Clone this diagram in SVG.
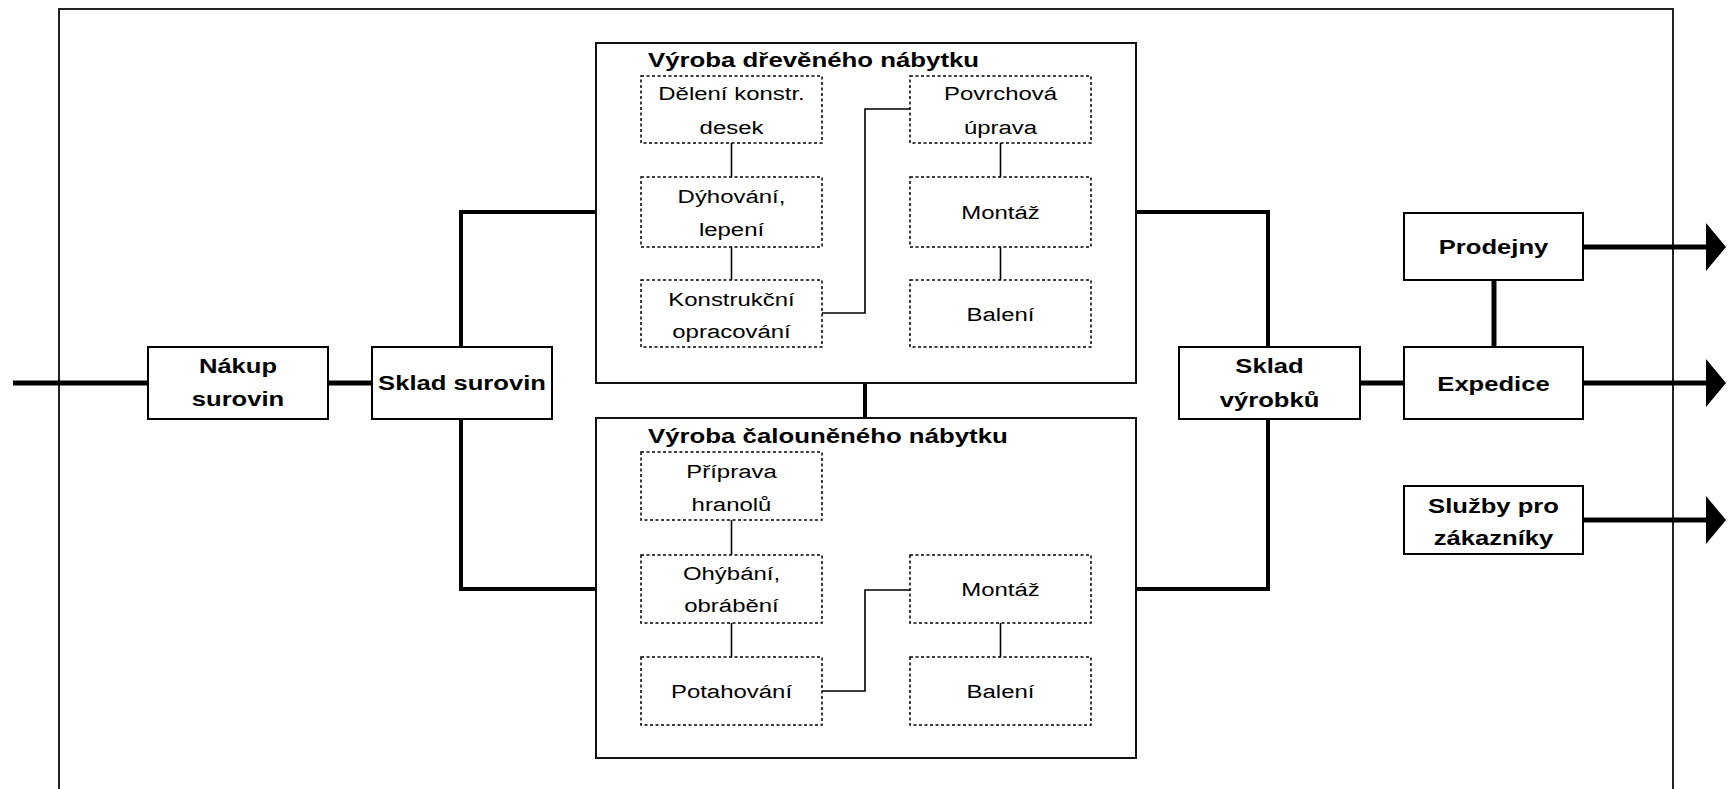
<svg xmlns="http://www.w3.org/2000/svg" width="1729" height="789" viewBox="0 0 1729 789">
<defs>
<style>
.frame{fill:none;stroke:#222;stroke-width:2}
.box{fill:#fff;stroke:#000;stroke-width:2}
.big{fill:#fff;stroke:#111;stroke-width:2}
.dash{fill:#fff;stroke:#000;stroke-width:1.5;stroke-dasharray:3 2.5}
.thick{fill:none;stroke:#000;stroke-width:5}
.mid{fill:none;stroke:#000;stroke-width:4}
.thin{fill:none;stroke:#000;stroke-width:1.6}
.b{font-family:"Liberation Sans",Arial,sans-serif;font-weight:bold;font-size:20px;fill:#000}
.r{font-family:"Liberation Sans",Arial,sans-serif;font-size:19px;fill:#000}
.c{text-anchor:middle}
</style>
<marker id="ah" viewBox="0 0 20 48" markerWidth="20" markerHeight="48" refX="0" refY="24" markerUnits="userSpaceOnUse" orient="auto">
<path d="M0,0 L20,24 L0,48 Z" fill="#000"/>
</marker>
</defs>
<rect width="1729" height="789" fill="#fff"/>
<path class="frame" d="M59,800 V9 H1673 V800"/>

<g id="connectors">
<path class="thick" d="M13,383 H148"/>
<path class="thick" d="M328,383 H372"/>
<path class="mid" d="M461,347 V212 H596"/>
<path class="mid" d="M461,419 V589 H596"/>
<path class="mid" d="M865,383 V418"/>
<path class="mid" d="M1136,212 H1268 V347"/>
<path class="mid" d="M1136,589 H1268 V419"/>
<path class="thick" d="M1360,383 H1404"/>
<path class="thick" d="M1494,280 V347"/>
<path class="thick" d="M1583,247 H1706" marker-end="url(#ah)"/>
<path class="thick" d="M1583,383 H1706" marker-end="url(#ah)"/>
<path class="thick" d="M1583,520 H1706" marker-end="url(#ah)"/>
</g>

<g id="nakup">
<rect class="box" x="148" y="347" width="180" height="72"/>
<text class="b c" transform="translate(238,373) scale(1.28,1)">Nákup</text>
<text class="b c" transform="translate(238,406) scale(1.28,1)">surovin</text>
</g>
<g id="sklad-surovin">
<rect class="box" x="372" y="347" width="180" height="72"/>
<text class="b c" transform="translate(462,390) scale(1.28,1)">Sklad surovin</text>
</g>

<g id="vyroba-drevene">
<rect class="big" x="596" y="43" width="540" height="340"/>
<text class="b" transform="translate(648,67) scale(1.29,1)">Výroba dřevěného nábytku</text>
</g>
<g id="vyroba-drevene-inner-connectors">
<path class="thin" d="M731.5,143 V177 M731.5,247 V280 M1000.5,143 V177 M1000.5,247 V280"/>
<path class="thin" d="M822,313 H865 V109 H910"/>
</g>
<g id="deleni">
<rect class="dash" x="641" y="76" width="181" height="67"/>
<text class="r c" transform="translate(731.5,100) scale(1.26,1)">Dělení konstr.</text>
<text class="r c" transform="translate(731.5,134) scale(1.26,1)">desek</text>
</g>
<g id="dyhovani">
<rect class="dash" x="641" y="177" width="181" height="70"/>
<text class="r c" transform="translate(731.5,203) scale(1.26,1)">Dýhování,</text>
<text class="r c" transform="translate(731.5,236) scale(1.26,1)">lepení</text>
</g>
<g id="konstrukcni">
<rect class="dash" x="641" y="280" width="181" height="67"/>
<text class="r c" transform="translate(731.5,306) scale(1.26,1)">Konstrukční</text>
<text class="r c" transform="translate(731.5,338) scale(1.26,1)">opracování</text>
</g>
<g id="povrchova">
<rect class="dash" x="910" y="76" width="181" height="67"/>
<text class="r c" transform="translate(1000.5,100) scale(1.26,1)">Povrchová</text>
<text class="r c" transform="translate(1000.5,134) scale(1.26,1)">úprava</text>
</g>
<g id="montaz-1">
<rect class="dash" x="910" y="177" width="181" height="70"/>
<text class="r c" transform="translate(1000.5,219) scale(1.26,1)">Montáž</text>
</g>
<g id="baleni-1">
<rect class="dash" x="910" y="280" width="181" height="67"/>
<text class="r c" transform="translate(1000.5,321) scale(1.26,1)">Balení</text>
</g>

<g id="vyroba-calounene">
<rect class="big" x="596" y="418" width="540" height="340"/>
<text class="b" transform="translate(648,443) scale(1.29,1)">Výroba čalouněného nábytku</text>
</g>
<g id="vyroba-calounene-inner-connectors">
<path class="thin" d="M731.5,520 V555 M731.5,623 V657 M1000.5,623 V657"/>
<path class="thin" d="M822,691 H865 V590 H910"/>
</g>
<g id="priprava">
<rect class="dash" x="641" y="452" width="181" height="68"/>
<text class="r c" transform="translate(731.5,478) scale(1.26,1)">Příprava</text>
<text class="r c" transform="translate(731.5,511) scale(1.26,1)">hranolů</text>
</g>
<g id="ohybani">
<rect class="dash" x="641" y="555" width="181" height="68"/>
<text class="r c" transform="translate(731.5,580) scale(1.26,1)">Ohýbání,</text>
<text class="r c" transform="translate(731.5,612) scale(1.26,1)">obrábění</text>
</g>
<g id="potahovani">
<rect class="dash" x="641" y="657" width="181" height="68"/>
<text class="r c" transform="translate(731.5,698) scale(1.26,1)">Potahování</text>
</g>
<g id="montaz-2">
<rect class="dash" x="910" y="555" width="181" height="68"/>
<text class="r c" transform="translate(1000.5,596) scale(1.26,1)">Montáž</text>
</g>
<g id="baleni-2">
<rect class="dash" x="910" y="657" width="181" height="68"/>
<text class="r c" transform="translate(1000.5,698) scale(1.26,1)">Balení</text>
</g>

<g id="sklad-vyrobku">
<rect class="box" x="1179" y="347" width="181" height="72"/>
<text class="b c" transform="translate(1269.5,373) scale(1.28,1)">Sklad</text>
<text class="b c" transform="translate(1269.5,407) scale(1.28,1)">výrobků</text>
</g>
<g id="prodejny">
<rect class="box" x="1404" y="213" width="179" height="67"/>
<text class="b c" transform="translate(1493.5,254) scale(1.28,1)">Prodejny</text>
</g>
<g id="expedice">
<rect class="box" x="1404" y="347" width="179" height="72"/>
<text class="b c" transform="translate(1493.5,391) scale(1.28,1)">Expedice</text>
</g>
<g id="sluzby">
<rect class="box" x="1404" y="486" width="179" height="68"/>
<text class="b c" transform="translate(1493.5,513) scale(1.28,1)">Služby pro</text>
<text class="b c" transform="translate(1493.5,545) scale(1.28,1)">zákazníky</text>
</g>
</svg>
